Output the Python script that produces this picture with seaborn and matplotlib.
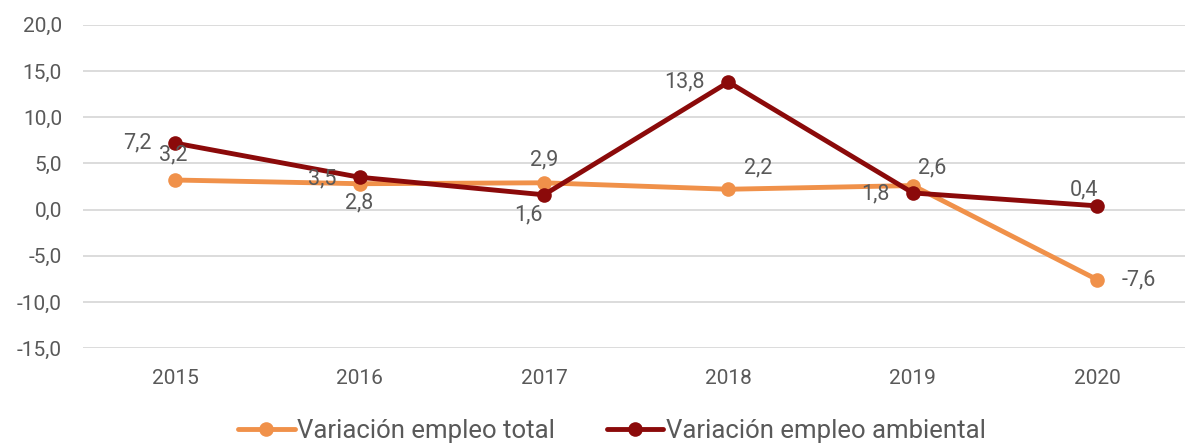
import matplotlib
matplotlib.use("Agg")
import matplotlib.pyplot as plt
import seaborn as sns
import pandas as pd
from matplotlib.ticker import FuncFormatter

years = ["2015", "2016", "2017", "2018", "2019", "2020"]
total = [3.2, 2.8, 2.9, 2.2, 2.6, -7.6]
ambiental = [7.2, 3.5, 1.6, 13.8, 1.8, 0.4]
series_names = ["Variación empleo total", "Variación empleo ambiental"]
yticks = [-15, -10, -5, 0, 5, 10, 15, 20]

sns.set_theme(style="white")
plt.rcParams["font.family"] = ["Roboto", "DejaVu Sans"]

TXT = "#595959"
C_TOT = "#F0914A"
C_AMB = "#8B0A0A"

df = pd.DataFrame({
    "year": years * 2,
    "value": total + ambiental,
    "serie": [series_names[0]] * len(years) + [series_names[1]] * len(years),
})

fig = plt.figure(figsize=(11.85, 4.44), dpi=100)
ax = fig.add_axes([0.0699, 0.216, 0.934, 0.728])

sns.lineplot(data=df, x="year", y="value", hue="serie",
             palette={series_names[0]: C_TOT, series_names[1]: C_AMB},
             marker="o", markersize=10.5, markeredgewidth=0, linewidth=3.5,
             sort=False, ax=ax, legend=True)

ax.set_ylim(-15, 20)
ax.set_xlim(-0.5, 5.5)
ax.set_yticks(yticks)
ax.yaxis.set_major_formatter(FuncFormatter(lambda v, p: f"{v:.1f}".replace(".", ",")))
ax.grid(axis="y", color="#D9D9D9", linewidth=1.3)
ax.grid(axis="x", visible=False)
for s in ax.spines.values():
    s.set_visible(False)
ax.tick_params(axis="both", length=0, labelsize=15, colors=TXT)
ax.tick_params(axis="y", pad=15)
ax.tick_params(axis="x", pad=15)
ax.set_xlabel("")
ax.set_ylabel("")

fmt = lambda v: f"{v:.1f}".replace(".", ",")
off_tot = [(-1, 18), (0, -14), (0, 16.5), (21.5, 15), (14, 13), (29.5, 0)]
off_amb = [(-27, 0), (-27, -1.5), (-11.5, -14.5), (-32, 0), (-27, -1), (-10, 11.5)]
for i, (v, o) in enumerate(zip(total, off_tot)):
    ax.annotate(fmt(v), (i, v), xytext=o, textcoords="offset points",
                ha="center", va="center", fontsize=15.5, color=TXT)
for i, (v, o) in enumerate(zip(ambiental, off_amb)):
    ax.annotate(fmt(v), (i, v), xytext=o, textcoords="offset points",
                ha="center", va="center", fontsize=15.5, color=TXT)

leg = ax.legend(loc="center", bbox_to_anchor=(0.478, -0.256), ncol=2,
                frameon=False, fontsize=18.5, handlelength=2.2, handletextpad=0.1,
                columnspacing=2.0, labelcolor=TXT, borderpad=0.1)

fig.savefig("out.png", dpi=100)
